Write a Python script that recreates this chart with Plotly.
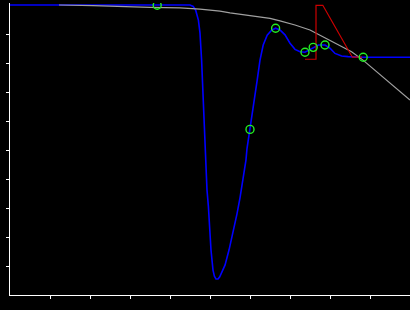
import plotly.graph_objects as go

# Blue response curve
blue_x = [0, 4.5, 4.58, 4.64, 4.71, 4.75, 4.79, 4.83, 4.875, 4.925, 4.96, 4.98, 5.025, 5.075, 5.11,
          5.15, 5.2, 5.24, 5.275, 5.375, 5.475, 5.575, 5.675, 5.75, 5.83, 5.9, 5.925, 6.0, 6.05,
          6.11, 6.18, 6.25, 6.33, 6.43, 6.54, 6.64, 6.75, 6.875, 7.0, 7.125, 7.25, 7.375, 7.475,
          7.58, 7.71, 7.875, 8.0, 8.125, 8.29, 8.45, 8.83, 10]
blue_y = [10, 10, 9.95, 9.83, 9.48, 9.03, 8.10, 6.72, 5.45, 3.62, 3.05, 2.41, 1.55, 0.86, 0.65,
          0.55, 0.55, 0.62, 0.72, 1.03, 1.55, 2.14, 2.80, 3.35, 4.00, 4.66, 5.05, 5.71, 6.21,
          6.72, 7.41, 8.10, 8.62, 8.96, 9.13, 9.20, 9.14, 8.97, 8.68, 8.47, 8.39, 8.37, 8.45,
          8.54, 8.62, 8.62, 8.51, 8.33, 8.24, 8.22, 8.20, 8.20]

# Gray reference curve
gray_x = [1.225, 2.075, 3.5, 4.25, 4.75, 5.0, 5.25, 5.5, 5.75, 6.5, 6.75, 7.125, 7.5, 8.0, 8.54,
          8.825, 9.5, 10]
gray_y = [10, 9.98, 9.92, 9.90, 9.86, 9.83, 9.79, 9.73, 9.68, 9.54, 9.45, 9.31, 9.14, 8.79, 8.39,
          8.10, 7.31, 6.72]

# Red outline
red_x = [7.375, 7.65, 7.65, 7.82, 8.56, 8.8]
red_y = [8.13, 8.13, 9.99, 9.99, 8.20, 8.20]

# Green markers
mark_x = [3.68, 6.0, 6.64, 7.375, 7.58, 7.875, 8.83]
mark_y = [9.99, 5.71, 9.20, 8.37, 8.54, 8.62, 8.20]

fig = go.Figure()
fig.add_trace(go.Scatter(x=blue_x, y=blue_y, mode="lines",
                         line=dict(color="#0000ff", width=1.6)))
fig.add_trace(go.Scatter(x=gray_x, y=gray_y, mode="lines",
                         line=dict(color="#a0a0a0", width=1.2)))
fig.add_trace(go.Scatter(x=red_x, y=red_y, mode="lines",
                         line=dict(color="#cc0000", width=1.2)))
fig.add_trace(go.Scatter(x=mark_x, y=mark_y, mode="markers",
                         marker=dict(symbol="circle-open", size=8, color="#22ee22",
                                     line=dict(width=1.4, color="#22ee22"))))

axis_common = dict(showgrid=False, zeroline=False, showline=True, linecolor="white", linewidth=1,
                   ticks="outside", ticklen=3, tickwidth=1, tickcolor="white",
                   showticklabels=False, tickvals=[1, 2, 3, 4, 5, 6, 7, 8, 9])
fig.update_xaxes(range=[0, 10], **axis_common)
fig.update_yaxes(range=[0, 10.069], **axis_common)
fig.update_layout(width=410, height=310, margin=dict(l=10, r=0, t=3, b=15),
                  paper_bgcolor="black", plot_bgcolor="black", showlegend=False)
fig.write_html("out.html")
